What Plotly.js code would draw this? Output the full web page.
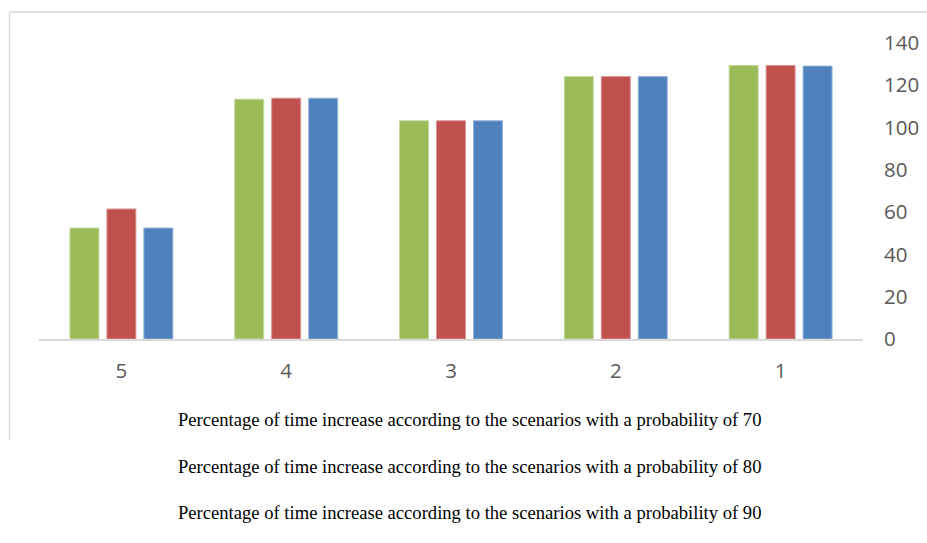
<!DOCTYPE html>
<html>
<head>
<meta charset="utf-8">
<script src="https://cdn.plot.ly/plotly-3.0.1.min.js"></script>
<style>html,body{margin:0;padding:0;background:#fff;}#chart{width:927px;height:543px;}</style>
</head>
<body>
<div id="chart"></div>
<script>
var categories = ['5', '4', '3', '2', '1'];
var seriesNames = [
  'Percentage of time increase according to the scenarios with a probability of 70',
  'Percentage of time increase according to the scenarios with a probability of 80',
  'Percentage of time increase according to the scenarios with a probability of 90'
];
var p70 = [52.5, 113.4, 103.2, 124.1, 129.4];
var p80 = [61.5, 113.9, 103.2, 124.1, 129.4];
var p90 = [52.5, 113.9, 103.2, 124.1, 129.1];
var yTicks = [0, 20, 40, 60, 80, 100, 120, 140];

var colors = ['#9BBB59', '#C0504D', '#4F81BD'];
var edge = ['#C3D69B', '#D99694', '#95B3D7'];
var values = [p70, p80, p90];

var traces = values.map(function (v, i) {
  return {
    type: 'bar',
    x: categories,
    y: v,
    name: seriesNames[i],
    marker: {color: colors[i], line: {color: edge[i], width: 1}},
    hoverinfo: 'x+y'
  };
});

var legendY = [-0.2736, -0.4291, -0.5878];
var annotations = seriesNames.map(function (n, i) {
  return {
    text: n, xref: 'paper', yref: 'paper', x: 0.523, y: legendY[i],
    showarrow: false, xanchor: 'center', yanchor: 'middle',
    font: {family: 'Liberation Serif, Times New Roman, serif', size: 18.6, color: '#000'}
  };
});

var layout = {
  width: 927, height: 543,
  margin: {l: 39, r: 64, t: 43, b: 204, pad: 0},
  paper_bgcolor: '#fff', plot_bgcolor: '#fff',
  showlegend: false,
  barmode: 'group',
  bargap: 0.327,
  bargroupgap: 0.216,
  xaxis: {
    type: 'category',
    showgrid: false, zeroline: false,
    showline: true, linecolor: '#D9D9D9', linewidth: 1.5,
    ticks: '',
    tickfont: {family: 'Open Sans, Liberation Sans, sans-serif', size: 20.5, color: '#595959'},
    ticklabelstandoff: 13
  },
  yaxis: {
    side: 'right',
    range: [0, 140],
    tickvals: yTicks,
    ticktext: yTicks.map(String),
    showgrid: false, zeroline: false, showline: false,
    ticks: '',
    tickfont: {family: 'Open Sans, Liberation Sans, sans-serif', size: 20.5, color: '#595959'},
    ticklabelstandoff: 20
  },
  shapes: [
    {type: 'line', xref: 'paper', yref: 'paper', x0: -0.0358, x1: 1.1, y0: 1.1047, y1: 1.1047,
     line: {color: '#D9D9D9', width: 1.5}},
    {type: 'line', xref: 'paper', yref: 'paper', x0: -0.0358, x1: -0.0358, y0: 1.1047, y1: -0.341,
     line: {color: '#D9D9D9', width: 1.5}}
  ],
  annotations: annotations
};

Plotly.newPlot('chart', traces, layout, {displayModeBar: false, staticPlot: true});
</script>
</body>
</html>
